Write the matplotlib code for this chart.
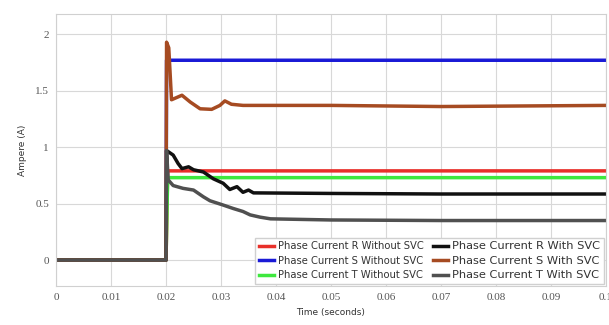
import matplotlib
matplotlib.use('Agg')
import matplotlib.pyplot as plt

# --- data (time in s, current in A) ---
t_r_wo = [0, 0.02, 0.0203, 0.1]
i_r_wo = [0, 0, 0.79, 0.79]

t_s_wo = [0, 0.02, 0.0201, 0.1]
i_s_wo = [0, 0, 1.77, 1.77]

t_t_wo = [0, 0.02, 0.0203, 0.1]
i_t_wo = [0, 0, 0.73, 0.73]

t_r_w = [0, 0.02, 0.0201, 0.0213, 0.0222, 0.0229, 0.0241, 0.025, 0.0268,
         0.0286, 0.0304, 0.0316, 0.0329, 0.034, 0.035, 0.0359, 0.05, 0.07, 0.1]
i_r_w = [0, 0, 0.97, 0.93, 0.855, 0.81, 0.826, 0.80, 0.78,
         0.72, 0.68, 0.625, 0.65, 0.60, 0.62, 0.595, 0.59, 0.585, 0.585]

t_s_w = [0, 0.02, 0.0201, 0.0205, 0.021, 0.0229, 0.0244, 0.0262, 0.0283,
         0.0298, 0.0307, 0.0319, 0.034, 0.05, 0.07, 0.1]
i_s_w = [0, 0, 1.93, 1.88, 1.42, 1.46, 1.40, 1.34, 1.335,
         1.37, 1.41, 1.38, 1.37, 1.37, 1.36, 1.37]

t_t_w = [0, 0.02, 0.0201, 0.0204, 0.0213, 0.0231, 0.025, 0.0268, 0.028,
         0.0304, 0.0322, 0.034, 0.0353, 0.0371, 0.039, 0.05, 0.07, 0.1]
i_t_w = [0, 0, 0.97, 0.71, 0.66, 0.635, 0.62, 0.56, 0.525,
         0.487, 0.457, 0.43, 0.40, 0.38, 0.365, 0.355, 0.35, 0.35]

series = [
    ('Phase Current R Without SVC', t_r_wo, i_r_wo, '#e8302a'),
    ('Phase Current S Without SVC', t_s_wo, i_s_wo, '#1a1ad6'),
    ('Phase Current T Without SVC', t_t_wo, i_t_wo, '#3ee83e'),
    ('Phase Current R With SVC', t_r_w, i_r_w, '#111111'),
    ('Phase Current S With SVC', t_s_w, i_s_w, '#a64b22'),
    ('Phase Current T With SVC', t_t_w, i_t_w, '#505050'),
]

x_ticks = [0, 0.01, 0.02, 0.03, 0.04, 0.05, 0.06, 0.07, 0.08, 0.09, 0.1]
x_labels = ['0', '0.01', '0.02', '0.03', '0.04', '0.05', '0.06', '0.07', '0.08', '0.09', '0.1']
y_ticks = [0, 0.5, 1, 1.5, 2]
y_labels = ['0', '0.5', '1', '1.5', '2']

fig = plt.figure(figsize=(6.09, 3.25), dpi=100)
ax = fig.add_axes([0.092, 0.12, 0.903, 0.837])

lines = []
for name, t, v, c in series:
    ln, = ax.plot(t, v, color=c, linewidth=2.5, label=name, solid_joinstyle='round')
    lines.append(ln)

ax.set_xlim(0, 0.1)
ax.set_ylim(-0.23, 2.18)
ax.set_xticks(x_ticks)
ax.set_xticklabels(x_labels, family='Liberation Serif', fontsize=8, color='#555555')
ax.set_yticks(y_ticks)
ax.set_yticklabels(y_labels, family='Liberation Serif', fontsize=8, color='#555555')
ax.tick_params(length=0, pad=5)
ax.grid(True, color='#d8d8d8', linewidth=0.8)
for sp in ax.spines.values():
    sp.set_color('#d0d0d0')
    sp.set_linewidth(0.8)

ax.set_xlabel('Time (seconds)', fontsize=6.5, color='#333333', labelpad=4)
ax.set_ylabel('Ampere (A)', fontsize=6.5, color='#333333', labelpad=6)

leg = ax.legend(handles=lines, ncol=2, loc='lower right', borderaxespad=0.25,
                fontsize=7, frameon=True, fancybox=False, framealpha=1,
                edgecolor='#d0d0d0', handlelength=1.6, handletextpad=0.4,
                columnspacing=0.9, labelspacing=0.45, borderpad=0.35)
for i, txt in enumerate(leg.get_texts()):
    txt.set_fontsize(7.2 if i < 3 else 8.2)
    txt.set_color('#333333')

fig.savefig('out.png', dpi=100)
